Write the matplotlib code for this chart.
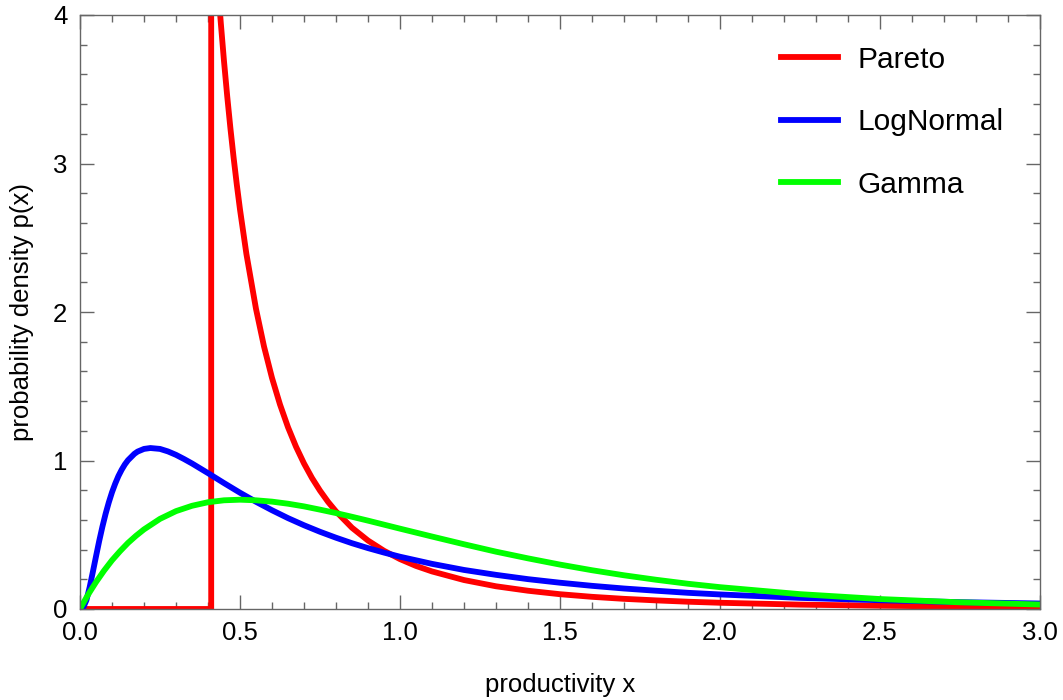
import numpy as np
import matplotlib.pyplot as plt

plt.rcParams['font.family'] = ['Liberation Sans', 'DejaVu Sans']

# values
x_pareto = [0.0, 0.41, 0.41, 0.415, 0.42, 0.425, 0.43, 0.44, 0.45, 0.46, 0.47, 0.48,
            0.49, 0.50, 0.52, 0.55, 0.575, 0.60, 0.625, 0.65, 0.675, 0.70, 0.725, 0.75,
            0.775, 0.80, 0.85, 0.90, 0.95, 1.00, 1.05, 1.10, 1.20, 1.30, 1.40, 1.50,
            1.60, 1.70, 1.80, 1.90, 2.00, 2.25, 2.50, 2.75, 3.00]
y_pareto = [0.0, 0.0, 4.878, 4.704, 4.538, 4.380, 4.229, 3.947, 3.689, 3.454, 3.238, 3.040,
            2.858, 2.690, 2.391, 2.021, 1.768, 1.556, 1.377, 1.224, 1.093, 0.980, 0.882, 0.797,
            0.722, 0.657, 0.547, 0.461, 0.392, 0.336, 0.290, 0.253, 0.195, 0.153, 0.123, 0.0996,
            0.082, 0.0684, 0.058, 0.049, 0.042, 0.0295, 0.022, 0.0162, 0.012]

x_lognorm = [0.0, 0.01, 0.02, 0.03, 0.04, 0.05, 0.06, 0.07, 0.08, 0.09, 0.10, 0.11,
             0.12, 0.13, 0.14, 0.15, 0.17, 0.18, 0.20, 0.22, 0.25, 0.275, 0.30, 0.325,
             0.35, 0.40, 0.45, 0.50, 0.55, 0.60, 0.65, 0.70, 0.75, 0.80, 0.85, 0.90,
             0.95, 1.00, 1.10, 1.20, 1.30, 1.40, 1.50, 1.60, 1.70, 1.80, 1.90, 2.00,
             2.25, 2.50, 2.75, 3.00]
y_lognorm = [0.0, 0.009, 0.059, 0.145, 0.248, 0.354, 0.458, 0.554, 0.641, 0.718, 0.786, 0.844,
             0.895, 0.937, 0.973, 1.002, 1.045, 1.060, 1.078, 1.084, 1.078, 1.061, 1.038, 1.010,
             0.980, 0.915, 0.848, 0.783, 0.722, 0.665, 0.612, 0.564, 0.520, 0.480, 0.443, 0.410,
             0.380, 0.352, 0.304, 0.263, 0.230, 0.201, 0.177, 0.156, 0.138, 0.123, 0.109, 0.098,
             0.075, 0.059, 0.046, 0.037]

x_gamma = [0.0, 0.01, 0.02, 0.03, 0.05, 0.075, 0.10, 0.125, 0.15, 0.175, 0.20, 0.25,
           0.30, 0.35, 0.40, 0.45, 0.50, 0.55, 0.60, 0.65, 0.70, 0.75, 0.80, 0.85,
           0.90, 0.95, 1.00, 1.10, 1.20, 1.30, 1.40, 1.50, 1.60, 1.70, 1.80, 1.90,
           2.00, 2.25, 2.50, 2.75, 3.00]
y_gamma = [0.0, 0.039, 0.077, 0.113, 0.181, 0.258, 0.328, 0.389, 0.445, 0.493, 0.536, 0.607,
           0.659, 0.695, 0.719, 0.732, 0.736, 0.732, 0.723, 0.709, 0.691, 0.669, 0.646, 0.621,
           0.595, 0.568, 0.541, 0.488, 0.436, 0.386, 0.341, 0.299, 0.261, 0.227, 0.197, 0.170,
           0.147, 0.100, 0.067, 0.045, 0.030]

fig = plt.figure(figsize=(10.63, 7.0), dpi=100)
ax = fig.add_axes([80/1063, 1 - 609/700, 960/1063, 594/700])

lw = 4.2
ax.plot(x_pareto, y_pareto, color='#ff0000', lw=lw, label='Pareto', solid_joinstyle='miter')
ax.plot(x_lognorm, y_lognorm, color='#0000ff', lw=lw, label='LogNormal')
ax.plot(x_gamma, y_gamma, color='#00ff00', lw=lw, label='Gamma')

ax.set_xlim(0, 3)
ax.set_ylim(0, 4)
ax.set_xticks(np.arange(0, 3.01, 0.5))
ax.set_xticklabels(['0.0', '0.5', '1.0', '1.5', '2.0', '2.5', '3.0'])
ax.set_xticks(np.arange(0, 3.01, 0.1), minor=True)
ax.set_yticks([0, 1, 2, 3, 4])
ax.set_yticks(np.arange(0, 4.01, 0.2), minor=True)

for s in ax.spines.values():
    s.set_color('#666666')
    s.set_linewidth(1.0)
ax.tick_params(which='both', direction='in', top=True, right=True, color='#666666', width=1.0)
ax.tick_params(which='major', length=10, labelsize=18.5, pad=9)
ax.tick_params(which='minor', length=5)

ax.set_xlabel('productivity x', fontsize=18.5, labelpad=20)
ax.set_ylabel('probability density p(x)', fontsize=18.5, labelpad=14)

ax.legend(loc='upper right', bbox_to_anchor=(0.9625, 0.948), frameon=False, fontsize=21.5,
          handlelength=1.9, handletextpad=0.68, labelspacing=1.15, borderpad=0, borderaxespad=0)

fig.savefig('out.png', dpi=100)
